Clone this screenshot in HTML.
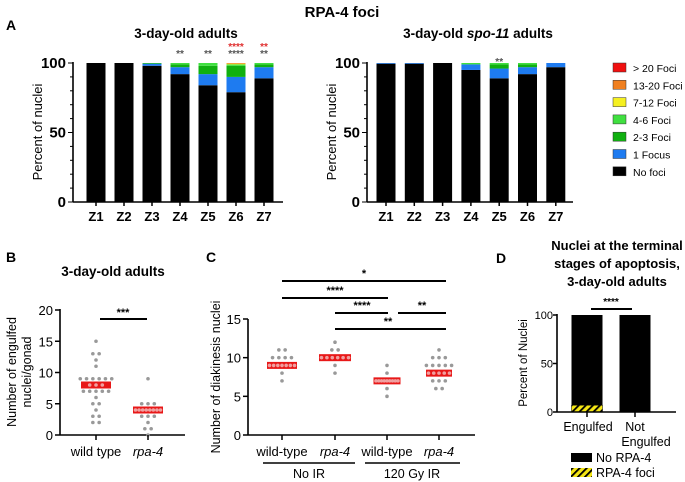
<!DOCTYPE html>
<html><head><meta charset="utf-8"><style>
body{margin:0;background:#fff;}
svg{display:block;font-family:"Liberation Sans",Arial,sans-serif;font-weight:bold;}
</style></head><body>
<svg id="fig" width="685" height="482" viewBox="0 0 685 482">
<defs><pattern id="hatch" width="5" height="5" patternUnits="userSpaceOnUse" patternTransform="rotate(45)"><rect width="5" height="5" fill="#f5e614"/><rect width="1.8" height="5" fill="#000"/></pattern></defs>
<text x="342" y="17" font-size="15" text-anchor="middle">RPA-4 foci</text>
<text x="6" y="30" font-size="14">A</text>
<text x="6" y="262" font-size="14">B</text>
<text x="206" y="262" font-size="14">C</text>
<text x="496" y="263" font-size="14">D</text>
<g id="gA1"></g>
<g id="gA2"></g>
<g id="gLeg"></g>
<g id="gB"></g>
<g id="gC"></g>
<g id="gD"></g>
</svg>
<script>
const zones=["Z1","Z2","Z3","Z4","Z5","Z6","Z7"];
const fociColors=["#000000","#1e7bf0","#10b010","#40e040","#f5f020","#f08020","#f01010"];
const fociNames=["No foci","1 Focus","2-3 Foci","4-6 Foci","7-12 Foci","13-20 Foci","> 20 Foci"];
const wtNoFoci=[100,100,98,92,84,79,89];
const wtOne=[0,0,1.5,5,8,11,8];
const wtTwo=[0,0,0.5,2,6,8,2];
const wtFour=[0,0,0,1,2,1,1];
const wtSeven=[0,0,0,0,0,0.5,0];
const wtThirteen=[0,0,0,0,0,0.5,0];
const wtTwenty=[0,0,0,0,0,0,0];
const spNoFoci=[99.5,99.5,100,95,89,92,97];
const spOne=[0.5,0.5,0,4,7,5,3];
const spTwo=[0,0,0,0,3,2,0];
const spFour=[0,0,0,1,1,1,0];
const spSeven=[0,0,0,0,0,0,0];
const spThirteen=[0,0,0,0,0,0,0];
const spTwenty=[0,0,0,0,0,0,0];
const aTicks=[0,50,100];
const bGroups=["wild type","rpa-4"];
const bWT=[15,13,13,12,11,9,9,9,9,9,9,8,8,8,7,7,7,7,7,6,5,5,4,3,3,2,2];
const bRPA=[9,5,5,5,4,4,4,4,4,4,4,4,3,3,3,2,1,1,0];
const bMeans=[8,4];
const bTicks=[0,5,10,15,20];
const cGroups=["wild-type","rpa-4","wild-type","rpa-4"];
const cWT=[11,11,10,10,10,10,9,9,9,9,9,9,9,8,7];
const cRPA=[12,11,11,10,10,10,10,10,10,9,8];
const cWTIR=[9,8,7,7,7,7,7,7,7,7,7,6,5];
const cRPAIR=[11,10,10,10,9,9,9,9,9,8,8,8,8,8,7,7,7,6,6];
const cMeans=[9,10,7,8];
const cTicks=[0,5,10,15];
const dCats=["Engulfed","Not Engulfed"];
const dFoci=[7,0];
const dNoFoci=[93,100];
const dTicks=[0,50,100];

const NS="http://www.w3.org/2000/svg";
function mk(p,tag,at,txt){const e=document.createElementNS(NS,tag);for(const k in at)e.setAttribute(k,at[k]);if(txt!==undefined)e.textContent=txt;p.appendChild(e);return e;}
function lin(d0,d1,r0,r1){return v=>r0+(v-d0)/(d1-d0)*(r1-r0);}

function stacked(g,x0,x1,first,step,series,title,italicTitle){
  const y=lin(0,100,202,63);
  const t=mk(g,"text",{x:(x0+x1)/2+8,y:38,"font-size":13.5,"text-anchor":"middle"});
  
  
  if(italicTitle){mk(t,"tspan",{},"3-day-old ");mk(t,"tspan",{"font-style":"italic"},"spo-11");mk(t,"tspan",{}," adults");}else t.textContent=title;
  zones.forEach((z,i)=>{
    const cx=first+step*i;let acc=0;
    series.forEach((s,k)=>{
      const v=s[i];if(v<=0)return;
      const r=mk(g,"rect",{x:cx-9.5,y:y(acc+v),width:19,height:y(acc)-y(acc+v),fill:fociColors[k]});
      
      
      acc+=v;
    });
    mk(g,"line",{x1:cx,x2:cx,y1:202,y2:206,stroke:"#000","stroke-width":1.5});
    const l=mk(g,"text",{x:cx,y:221,"font-size":13,"text-anchor":"middle"},z);
    
    
  });
  mk(g,"line",{x1:x0,x2:x0,y1:62,y2:202,stroke:"#000","stroke-width":1.6});
  mk(g,"line",{x1:x0,x2:x1,y1:202,y2:202,stroke:"#000","stroke-width":1.6});
  for(let v=0;v<=100;v+=10)mk(g,"line",{x1:x0-(v%50?3:5),x2:x0,y1:y(v),y2:y(v),stroke:"#000","stroke-width":1});
  aTicks.forEach(v=>{const l=mk(g,"text",{x:x0-7,y:y(v)+5,"font-size":15,"text-anchor":"end"},v);
    
    });
  const yl=mk(g,"text",{transform:`translate(${x0-31},132) rotate(-90)`,"font-size":13,"font-weight":"normal","text-anchor":"middle"},"Percent of nuclei");
  
  
}
const gA1=document.getElementById("gA1");
stacked(gA1,73,283,96,28,[wtNoFoci,wtOne,wtTwo,wtFour,wtSeven,wtThirteen,wtTwenty],"3-day-old adults",false);
[[3,"**","#555",57],[4,"**","#555",57],[5,"****","#555",57],[5,"****","#e03030",50],[6,"**","#555",57],[6,"**","#e03030",50]].forEach(a=>{
  const s=mk(gA1,"text",{x:96+28*a[0],y:a[3],"font-size":10,fill:a[2],"text-anchor":"middle"},a[1]);
  
  
});
const gA2=document.getElementById("gA2");
stacked(gA2,367,573,386,28.3,[spNoFoci,spOne,spTwo,spFour,spSeven,spThirteen,spTwenty],"",true);
const s2=mk(gA2,"text",{x:386+28.3*4,y:65,"font-size":10,fill:"#555","text-anchor":"middle"},"**");


const gLeg=document.getElementById("gLeg");
for(let k=6;k>=0;k--){
  const yy=68+(6-k)*17.3;
  const e=mk(gLeg,"g",{});
  
  
  mk(e,"rect",{x:613,y:yy-5,width:13,height:9,fill:fociColors[k],stroke:"#333","stroke-width":0.5});
  mk(e,"text",{x:633,y:yy+4,"font-size":10.5,"font-weight":"normal"},fociNames[k]);
}

function swarm(g,vals,cx,y,meanV,barW){
  const counts={};vals.forEach(v=>counts[v]=(counts[v]||0)+1);
  const seen={};
  const r=mk(g,"rect",{x:cx-barW/2,y:y(meanV)-3.5,width:barW,height:7,fill:"#e81818"});
  
  
  vals.forEach(v=>{
    const n=counts[v];const i=seen[v]=(seen[v]||0);seen[v]++;
    let sp=6.3;
    if(v===meanV&&n>1)sp=Math.min(6.3,(barW-5)/(n-1));
    const px=cx+(i-(n-1)/2)*sp;
    const c=mk(g,"circle",{cx:px,cy:y(v),r:1.8,fill:v===meanV?"#f0a0a0":"#999"});
    
    
  });
}
// Panel B
const gB=document.getElementById("gB");
{
  const y=lin(0,20,435,310);
  mk(gB,"text",{x:113,y:276,"font-size":13.5,"text-anchor":"middle"},"3-day-old adults");
  mk(gB,"line",{x1:60,x2:60,y1:309,y2:435,stroke:"#000","stroke-width":1.6});
  mk(gB,"line",{x1:60,x2:185,y1:435,y2:435,stroke:"#000","stroke-width":1.6});
  bTicks.forEach(v=>{mk(gB,"line",{x1:55,x2:60,y1:y(v),y2:y(v),stroke:"#000","stroke-width":1.5});
    const l=mk(gB,"text",{x:53,y:y(v)+5,"font-size":13,"font-weight":"normal","text-anchor":"end"},v);
    
    });
  const xs=[96,148];
  swarm(gB,bWT,xs[0],y,bMeans[0],30);swarm(gB,bRPA,xs[1],y,bMeans[1],30);
  bGroups.forEach((gname,i)=>{mk(gB,"line",{x1:xs[i],x2:xs[i],y1:435,y2:440,stroke:"#000","stroke-width":1.5});
    const l=mk(gB,"text",{x:xs[i],y:456,"font-size":13,"font-weight":"normal","text-anchor":"middle","font-style":i?"italic":"normal"},gname);
    
    });
  mk(gB,"line",{x1:100,x2:147,y1:319,y2:319,stroke:"#000","stroke-width":2});
  mk(gB,"text",{x:123,y:316,"font-size":11,"text-anchor":"middle"},"***");
  mk(gB,"text",{transform:"translate(16,372) rotate(-90)","font-size":12.5,"font-weight":"normal","text-anchor":"middle"},"Number of engulfed");
  mk(gB,"text",{transform:"translate(31,372) rotate(-90)","font-size":12.5,"font-weight":"normal","text-anchor":"middle"},"nuclei/gonad");
}
// Panel C
const gC=document.getElementById("gC");
{
  const y=lin(0,15,435,319);
  mk(gC,"line",{x1:248,x2:248,y1:319,y2:435,stroke:"#000","stroke-width":1.6});
  mk(gC,"line",{x1:248,x2:475,y1:435,y2:435,stroke:"#000","stroke-width":1.6});
  cTicks.forEach(v=>{mk(gC,"line",{x1:243,x2:248,y1:y(v),y2:y(v),stroke:"#000","stroke-width":1.5});
    const l=mk(gC,"text",{x:241,y:y(v)+5,"font-size":13,"font-weight":"normal","text-anchor":"end"},v);
    
    });
  const xs=[282,335,387,439];
  [cWT,cRPA,cWTIR,cRPAIR].forEach((arr,i)=>swarm(gC,arr,xs[i],y,cMeans[i],i===1?32:(i===2?27:i===3?26:30)));
  cGroups.forEach((gname,i)=>{mk(gC,"line",{x1:xs[i],x2:xs[i],y1:435,y2:440,stroke:"#000","stroke-width":1.5});
    const l=mk(gC,"text",{x:xs[i],y:456,"font-size":13,"font-weight":"normal","text-anchor":"middle","font-style":i%2?"italic":"normal"},gname);
    
    });
  mk(gC,"line",{x1:263,x2:355,y1:463,y2:463,stroke:"#000","stroke-width":1.5});
  mk(gC,"text",{x:309,y:478,"font-size":12.5,"font-weight":"normal","text-anchor":"middle"},"No IR");
  mk(gC,"line",{x1:365,x2:460,y1:463,y2:463,stroke:"#000","stroke-width":1.5});
  mk(gC,"text",{x:412,y:478,"font-size":12.5,"font-weight":"normal","text-anchor":"middle"},"120 Gy IR");
  [[282,446,281,"*",364],[282,388,298,"****",335],[335,388,313,"****",362],[398,446,313,"**",422],[335,446,329,"**",388]].forEach(b=>{
    mk(gC,"line",{x1:b[0],x2:b[1],y1:b[2],y2:b[2],stroke:"#000","stroke-width":2});
    mk(gC,"text",{x:b[4],y:b[2]-4,"font-size":11,"text-anchor":"middle"},b[3]);
  });
  mk(gC,"text",{transform:"translate(220,377) rotate(-90)","font-size":12.5,"font-weight":"normal","text-anchor":"middle"},"Number of diakinesis nuclei");
}
// Panel D
const gD=document.getElementById("gD");
{
  const y=lin(0,100,412,315);
  ["Nuclei at the terminal","stages of apoptosis,","3-day-old adults"].forEach((t,i)=>mk(gD,"text",{x:617,y:250+i*18,"font-size":13,"text-anchor":"middle"},t));
  const xs=[587,635];
  dCats.forEach((c,i)=>{
    const b=mk(gD,"rect",{x:xs[i]-15.5,y:y(dFoci[i]+dNoFoci[i]),width:31,height:y(dFoci[i])-y(dFoci[i]+dNoFoci[i]),fill:"#000"});
    
    
    if(dFoci[i]>0){const h=mk(gD,"rect",{x:xs[i]-15.5,y:y(dFoci[i]),width:31,height:y(0)-y(dFoci[i]),fill:"url(#hatch)",stroke:"#000","stroke-width":0.5});
      
      }
    mk(gD,"line",{x1:xs[i],x2:xs[i],y1:412,y2:417,stroke:"#000","stroke-width":1.5});
  });
  mk(gD,"text",{x:588,y:431,"font-size":12.5,"font-weight":"normal","text-anchor":"middle"},"Engulfed");
  mk(gD,"text",{x:635,y:431,"font-size":12.5,"font-weight":"normal","text-anchor":"middle"},"Not");
  mk(gD,"text",{x:646,y:446,"font-size":12.5,"font-weight":"normal","text-anchor":"middle"},"Engulfed");
  mk(gD,"line",{x1:557,x2:557,y1:314,y2:412,stroke:"#000","stroke-width":1.6});
  mk(gD,"line",{x1:557,x2:676,y1:412,y2:412,stroke:"#000","stroke-width":1.6});
  dTicks.forEach(v=>{mk(gD,"line",{x1:553,x2:557,y1:y(v),y2:y(v),stroke:"#000","stroke-width":1.5});
    const l=mk(gD,"text",{x:553,y:y(v)+4,"font-size":11,"font-weight":"normal","text-anchor":"end"},v);
    
    });
  mk(gD,"text",{transform:"translate(527,363) rotate(-90)","font-size":11.5,"font-weight":"normal","text-anchor":"middle"},"Percent of Nuclei");
  mk(gD,"line",{x1:591,x2:632,y1:309,y2:309,stroke:"#000","stroke-width":2});
  mk(gD,"text",{x:611,y:305,"font-size":10,"text-anchor":"middle"},"****");
  mk(gD,"rect",{x:571,y:453,width:21,height:9,fill:"#000"});
  mk(gD,"text",{x:596,y:462,"font-size":12.5,"font-weight":"normal"},"No RPA-4");
  mk(gD,"rect",{x:571,y:468,width:21,height:9,fill:"url(#hatch)"});
  mk(gD,"text",{x:596,y:477,"font-size":12.5,"font-weight":"normal"},"RPA-4 foci");
}
</script>
</body></html>
